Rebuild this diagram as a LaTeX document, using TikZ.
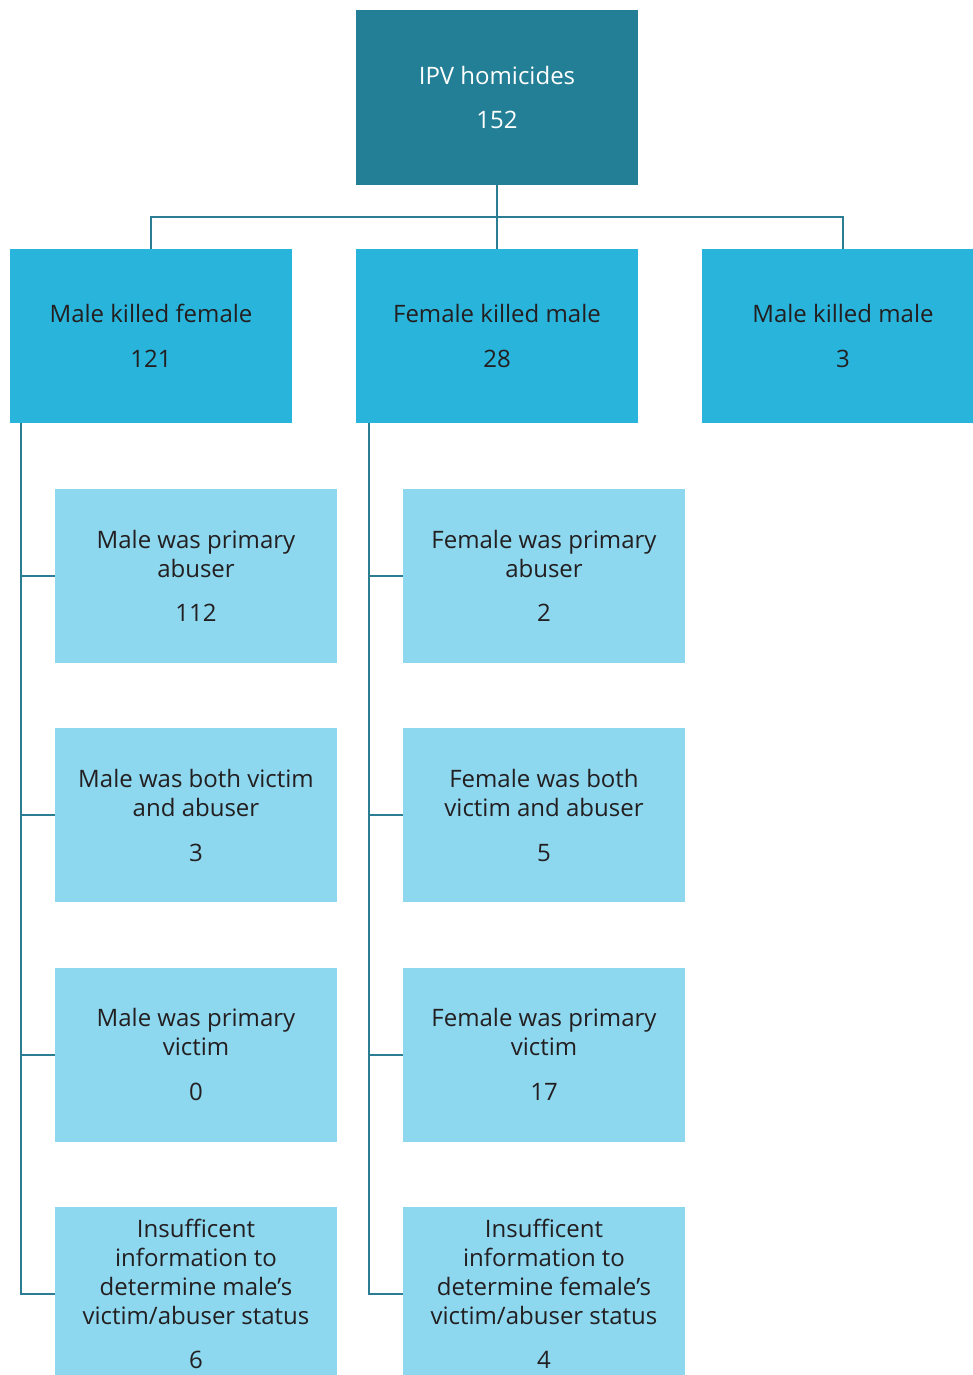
\documentclass[tikz,border=0pt]{standalone}
\usepackage{fontspec}
\setmainfont{Open Sans}
\usetikzlibrary{positioning,calc}
\definecolor{ipv_dark}{HTML}{237F96}
\definecolor{ipv_mid}{HTML}{29B4DC}
\definecolor{ipv_light}{HTML}{8DD7EF}
\definecolor{ipv_line}{HTML}{2A7D93}
\definecolor{TextGray}{HTML}{231F20}
\tikzset{
  box/.style={rectangle, minimum width=282pt, minimum height=174pt, inner sep=0pt,
    align=center, font=\fontsize{24}{29}\selectfont, text=TextGray},
  topbox/.style={box, fill=ipv_dark, minimum height=175pt, text=white},
  midbox/.style={box, fill=ipv_mid},
  subbox/.style={box, fill=ipv_light},
  link/.style={draw=ipv_line, line width=2.2pt},
}
\newcommand{\numgap}{\\[15.5pt]}
% one column of four sub boxes below a parent box, with a trunk line on its left
\newcommand{\subcolumn}[3]{%
  \foreach \txt [count=\i] in {#3} {%
    \pgfmathsetmacro{\ypos}{576 + (\i-1)*239.3}%
    \node[subbox] (#1-\i) at (#2,\ypos) {\txt};%
  }%
}

\begin{document}
\begin{tikzpicture}[x=1pt, y=-1pt]
  \useasboundingbox (0,0) rectangle (972,1375);

  % --- top and second level ---------------------------------------------
  \node[topbox] (top) at (497,97.5) {IPV homicides\numgap 152};
  \node[midbox] (mkf) at (151,336) {Male killed female\numgap 121};
  \node[midbox] (fkm) at (497,336) {Female killed male\numgap 28};
  \node[midbox] (mkm) at (843,336) {Male killed male\numgap 3};

  \coordinate (bus) at (497,217);
  \draw[link] (top.south) -- (fkm.north);
  \draw[link] (mkf.north) |- (bus) -| (mkm.north);

  % --- victim/abuser status ---------------------------------------------
  \subcolumn{male}{196}{{Male was primary\\abuser\numgap 112},
    {Male was both victim\\and abuser\numgap 3},
    {Male was primary\\victim\numgap 0},
    {Insufficent\\information to\\determine male’s\\victim/abuser status\numgap 6}}
  \subcolumn{female}{544}{{Female was primary\\abuser\numgap 2},
    {Female was both\\victim and abuser\numgap 5},
    {Female was primary\\victim\numgap 17},
    {Insufficent\\information to\\determine female’s\\victim/abuser status\numgap 4}}

  \coordinate (trunkM) at ([xshift=11pt]mkf.south west);
  \coordinate (trunkF) at ([xshift=13pt]fkm.south west);
  \draw[link] (trunkM) |- (male-4.west);
  \draw[link] (trunkF) |- (female-4.west);
  \foreach \i in {1,2,3} {
    \draw[link] (trunkM |- male-\i.west) -- (male-\i.west);
    \draw[link] (trunkF |- female-\i.west) -- (female-\i.west);
  }

\end{tikzpicture}
\end{document}
